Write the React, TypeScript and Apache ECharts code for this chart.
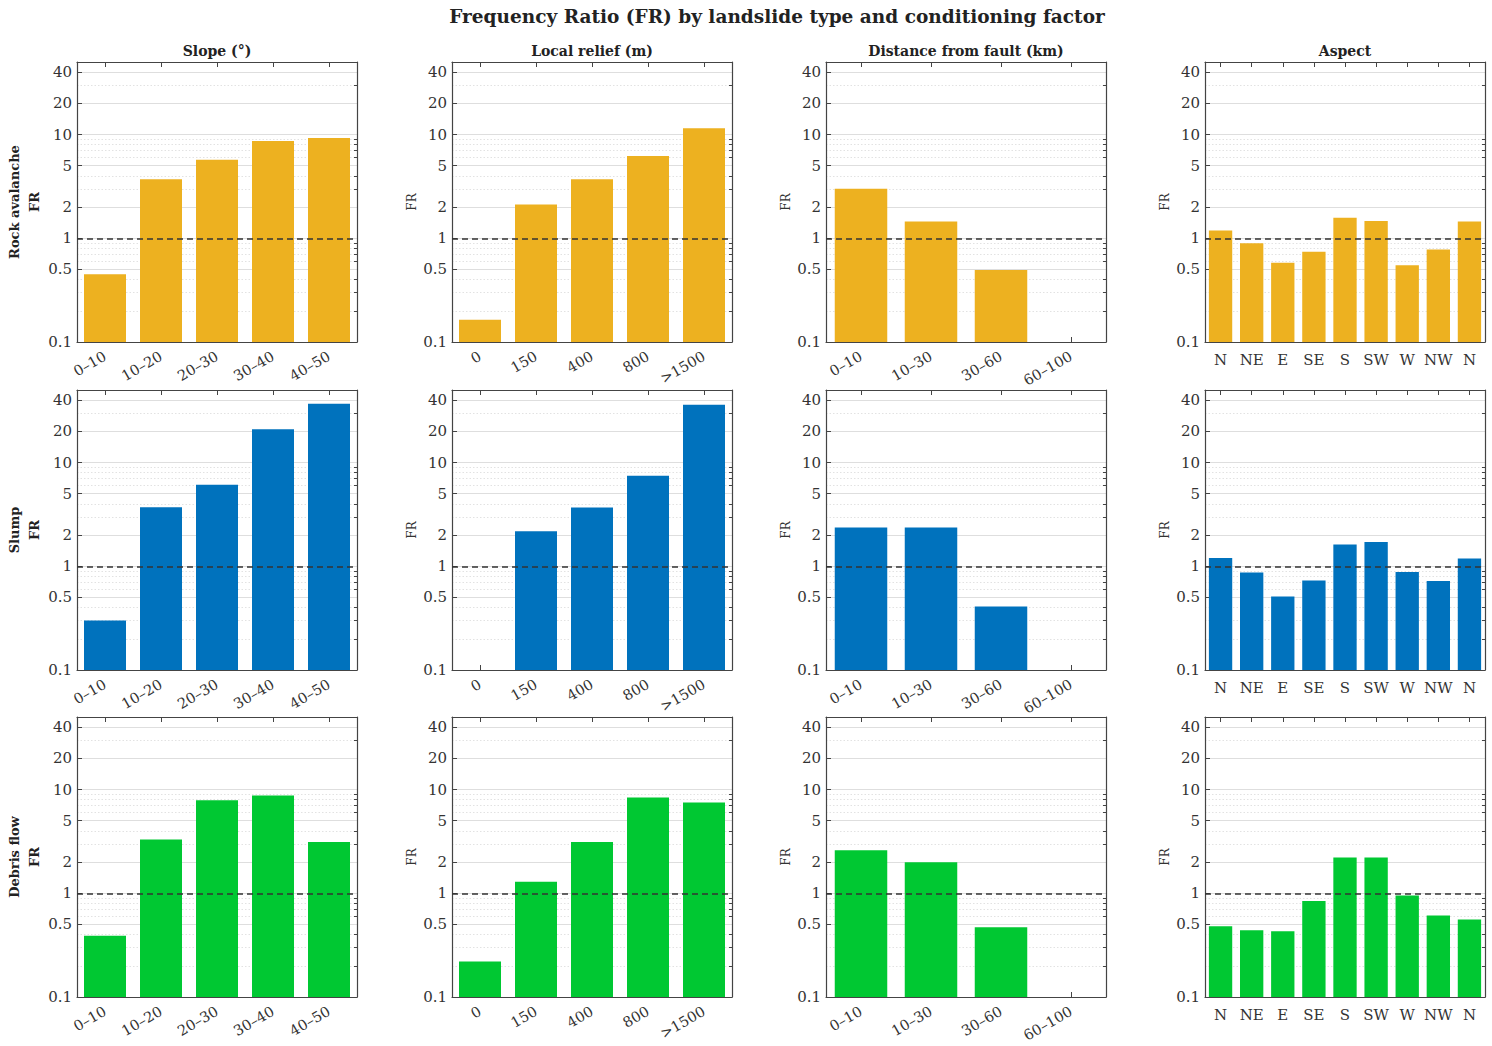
import React, { useEffect, useRef } from "react";
import * as echarts from "echarts";

const mainTitle = "Frequency Ratio (FR) by landslide type and conditioning factor";
const rowNames = ["Rock avalanche", "Slump", "Debris flow"];
const colTitles = ["Slope (°)", "Local relief (m)", "Distance from fault (km)", "Aspect"];

const slopeCats = ["0–10", "10–20", "20–30", "30–40", "40–50"];
const reliefCats = ["0", "150", "400", "800", ">1500"];
const faultCats = ["0–10", "10–30", "30–60", "60–100"];
const aspectCats = ["N", "NE", "E", "SE", "S", "SW", "W", "NW", "N"];

const rockSlope = [0.45, 3.7, 5.7, 8.65, 9.25];
const rockRelief = [0.164, 2.12, 3.7, 6.2, 11.5];
const rockFault = [3.0, 1.45, 0.495, null];
const rockAspect = [1.19, 0.895, 0.58, 0.74, 1.58, 1.47, 0.55, 0.78, 1.45];

const slumpSlope = [0.3, 3.7, 6.1, 20.9, 36.9];
const slumpRelief = [null, 2.18, 3.68, 7.45, 36.1];
const slumpFault = [2.36, 2.36, 0.41, null];
const slumpAspect = [1.2, 0.87, 0.51, 0.73, 1.62, 1.71, 0.88, 0.72, 1.19];

const debrisSlope = [0.39, 3.3, 7.9, 8.75, 3.12];
const debrisRelief = [0.22, 1.29, 3.12, 8.37, 7.5];
const debrisFault = [2.6, 1.99, 0.47, null];
const debrisAspect = [0.48, 0.44, 0.43, 0.84, 2.21, 2.21, 0.95, 0.61, 0.56];

const majorTicks = [0.1, 0.5, 1, 2, 5, 10, 20, 40];
const minorTicks = [0.2, 0.3, 0.4, 0.6, 0.7, 0.8, 0.9, 3, 4, 6, 7, 8, 9, 30];
const refValue = 1;

const rowColors = ["#EDB120", "#0072BD", "#00C832"];
const categories = [slopeCats, reliefCats, faultCats, aspectCats];
const values = [
  [rockSlope, rockRelief, rockFault, rockAspect],
  [slumpSlope, slumpRelief, slumpFault, slumpAspect],
  [debrisSlope, debrisRelief, debrisFault, debrisAspect],
];

const FONT = '"DejaVu Serif", "Liberation Serif", serif';
const gridLefts = [77, 452, 826, 1205];
const gridTops = [62, 390, 717];
const colCenters = [217, 592, 966, 1345];
const SIZE = 280;
const AXIS_COLOR = "#444";

function buildOption() {
  const grid: any[] = [];
  const xAxis: any[] = [];
  const xAxisTop: any[] = [];
  const yAxis: any[] = [];
  const yAxisRight: any[] = [];
  const series: any[] = [];
  for (let r = 0; r < 3; r++) {
    for (let c = 0; c < 4; c++) {
      const idx = r * 4 + c;
      grid.push({
        left: gridLefts[c],
        top: gridTops[r],
        width: SIZE,
        height: SIZE,
        containLabel: false,
        outerBoundsMode: "none",
      });
      xAxis.push({
        type: "category",
        gridIndex: idx,
        position: "bottom",
        data: categories[c],
        axisLine: { show: true, lineStyle: { color: AXIS_COLOR, width: 1.2 } },
        axisTick: { show: true, inside: true, alignWithLabel: true, length: 5, lineStyle: { color: AXIS_COLOR } },
        axisLabel: {
          interval: 0,
          rotate: c < 3 ? 30 : 0,
          fontFamily: FONT,
          fontSize: c < 3 ? 14.5 : 15,
          color: "#333",
          margin: c < 3 ? 13 : 10,
        },
        splitLine: { show: false },
      });
      xAxisTop.push({
        type: "category",
        gridIndex: idx,
        position: "top",
        data: categories[c],
        axisLine: { show: true, lineStyle: { color: AXIS_COLOR, width: 1.2 } },
        axisTick: { show: true, inside: true, alignWithLabel: true, length: 5, lineStyle: { color: AXIS_COLOR } },
        axisLabel: { show: false },
        splitLine: { show: false },
      });
      const first = c === 0;
      yAxis.push({
        type: "log",
        logBase: 10,
        gridIndex: idx,
        position: "left",
        min: 0.1,
        max: 50,
        startValue: 0.1,
        name: first ? rowNames[r] + "\nFR" : "FR",
        nameLocation: "middle",
        nameRotate: 90,
        nameGap: first ? 31 : 34,
        nameTextStyle: first
          ? { fontFamily: FONT, fontSize: 13, fontWeight: "bold", color: "#222", lineHeight: 20 }
          : { fontFamily: FONT, fontSize: 12, color: "#333" },
        axisLine: { show: true, lineStyle: { color: AXIS_COLOR, width: 1.2 } },
        axisTick: { show: true, inside: true, length: 5, customValues: majorTicks, lineStyle: { color: AXIS_COLOR } },
        axisLabel: {
          customValues: majorTicks,
          fontFamily: FONT,
          fontSize: 15,
          color: "#333",
          margin: 5,
          formatter: (v: number) => String(+Number(v).toPrecision(3)),
        },
        splitLine: { show: true, lineStyle: { color: "#dedede", width: 1 } },
        minorTick: { show: false },
        minorSplitLine: { show: false },
      });
      yAxisRight.push({
        type: "log",
        logBase: 10,
        gridIndex: idx,
        position: "right",
        min: 0.1,
        max: 50,
        axisLine: { show: true, lineStyle: { color: AXIS_COLOR, width: 1.2 } },
        axisTick: { show: true, inside: true, length: 3, customValues: minorTicks, lineStyle: { color: AXIS_COLOR } },
        axisLabel: { show: false, customValues: minorTicks },
        splitLine: { show: true, lineStyle: { color: "#e2e2e2", width: 1, type: [1.5, 2] } },
      });
      series.push({
        type: "bar",
        xAxisIndex: idx,
        yAxisIndex: idx,
        data: values[r][c],
        barWidth: "75%",
        itemStyle: { color: rowColors[r] },
        markLine: {
          silent: true,
          symbol: ["none", "none"],
          label: { show: false },
          lineStyle: { color: "#333", type: [6, 4], width: 1.5 },
          data: [{ yAxis: refValue }],
          animation: false,
        },
      });
    }
  }
  const graphic: any[] = [
    {
      type: "text",
      x: 777,
      y: 16,
      style: {
        text: mainTitle,
        textAlign: "center",
        textVerticalAlign: "middle",
        align: "center",
        verticalAlign: "middle",
        fontFamily: FONT,
        fontSize: 18.5,
        fontWeight: "bold",
        fill: "#222",
      },
    },
  ];
  colTitles.forEach((t, i) => {
    graphic.push({
      type: "text",
      x: colCenters[i],
      y: 51,
      style: {
        text: t,
        textAlign: "center",
        textVerticalAlign: "middle",
        align: "center",
        verticalAlign: "middle",
        fontFamily: FONT,
        fontSize: 14,
        fontWeight: "bold",
        fill: "#222",
      },
    });
  });
  return {
    animation: false,
    backgroundColor: "#fff",
    grid,
    xAxis: [...xAxis, ...xAxisTop],
    yAxis: [...yAxis, ...yAxisRight],
    series,
    graphic,
  };
}

export default function App() {
  const ref = useRef<HTMLDivElement>(null);
  useEffect(() => {
    if (!ref.current) return;
    const chart = echarts.init(ref.current, undefined, { renderer: "svg" });
    chart.setOption(buildOption() as any);
    return () => chart.dispose();
  }, []);
  return (
    <div
      ref={ref}
      style={{ position: "absolute", left: 0, top: 0, width: 1492, height: 1046, background: "#fff" }}
    />
  );
}
